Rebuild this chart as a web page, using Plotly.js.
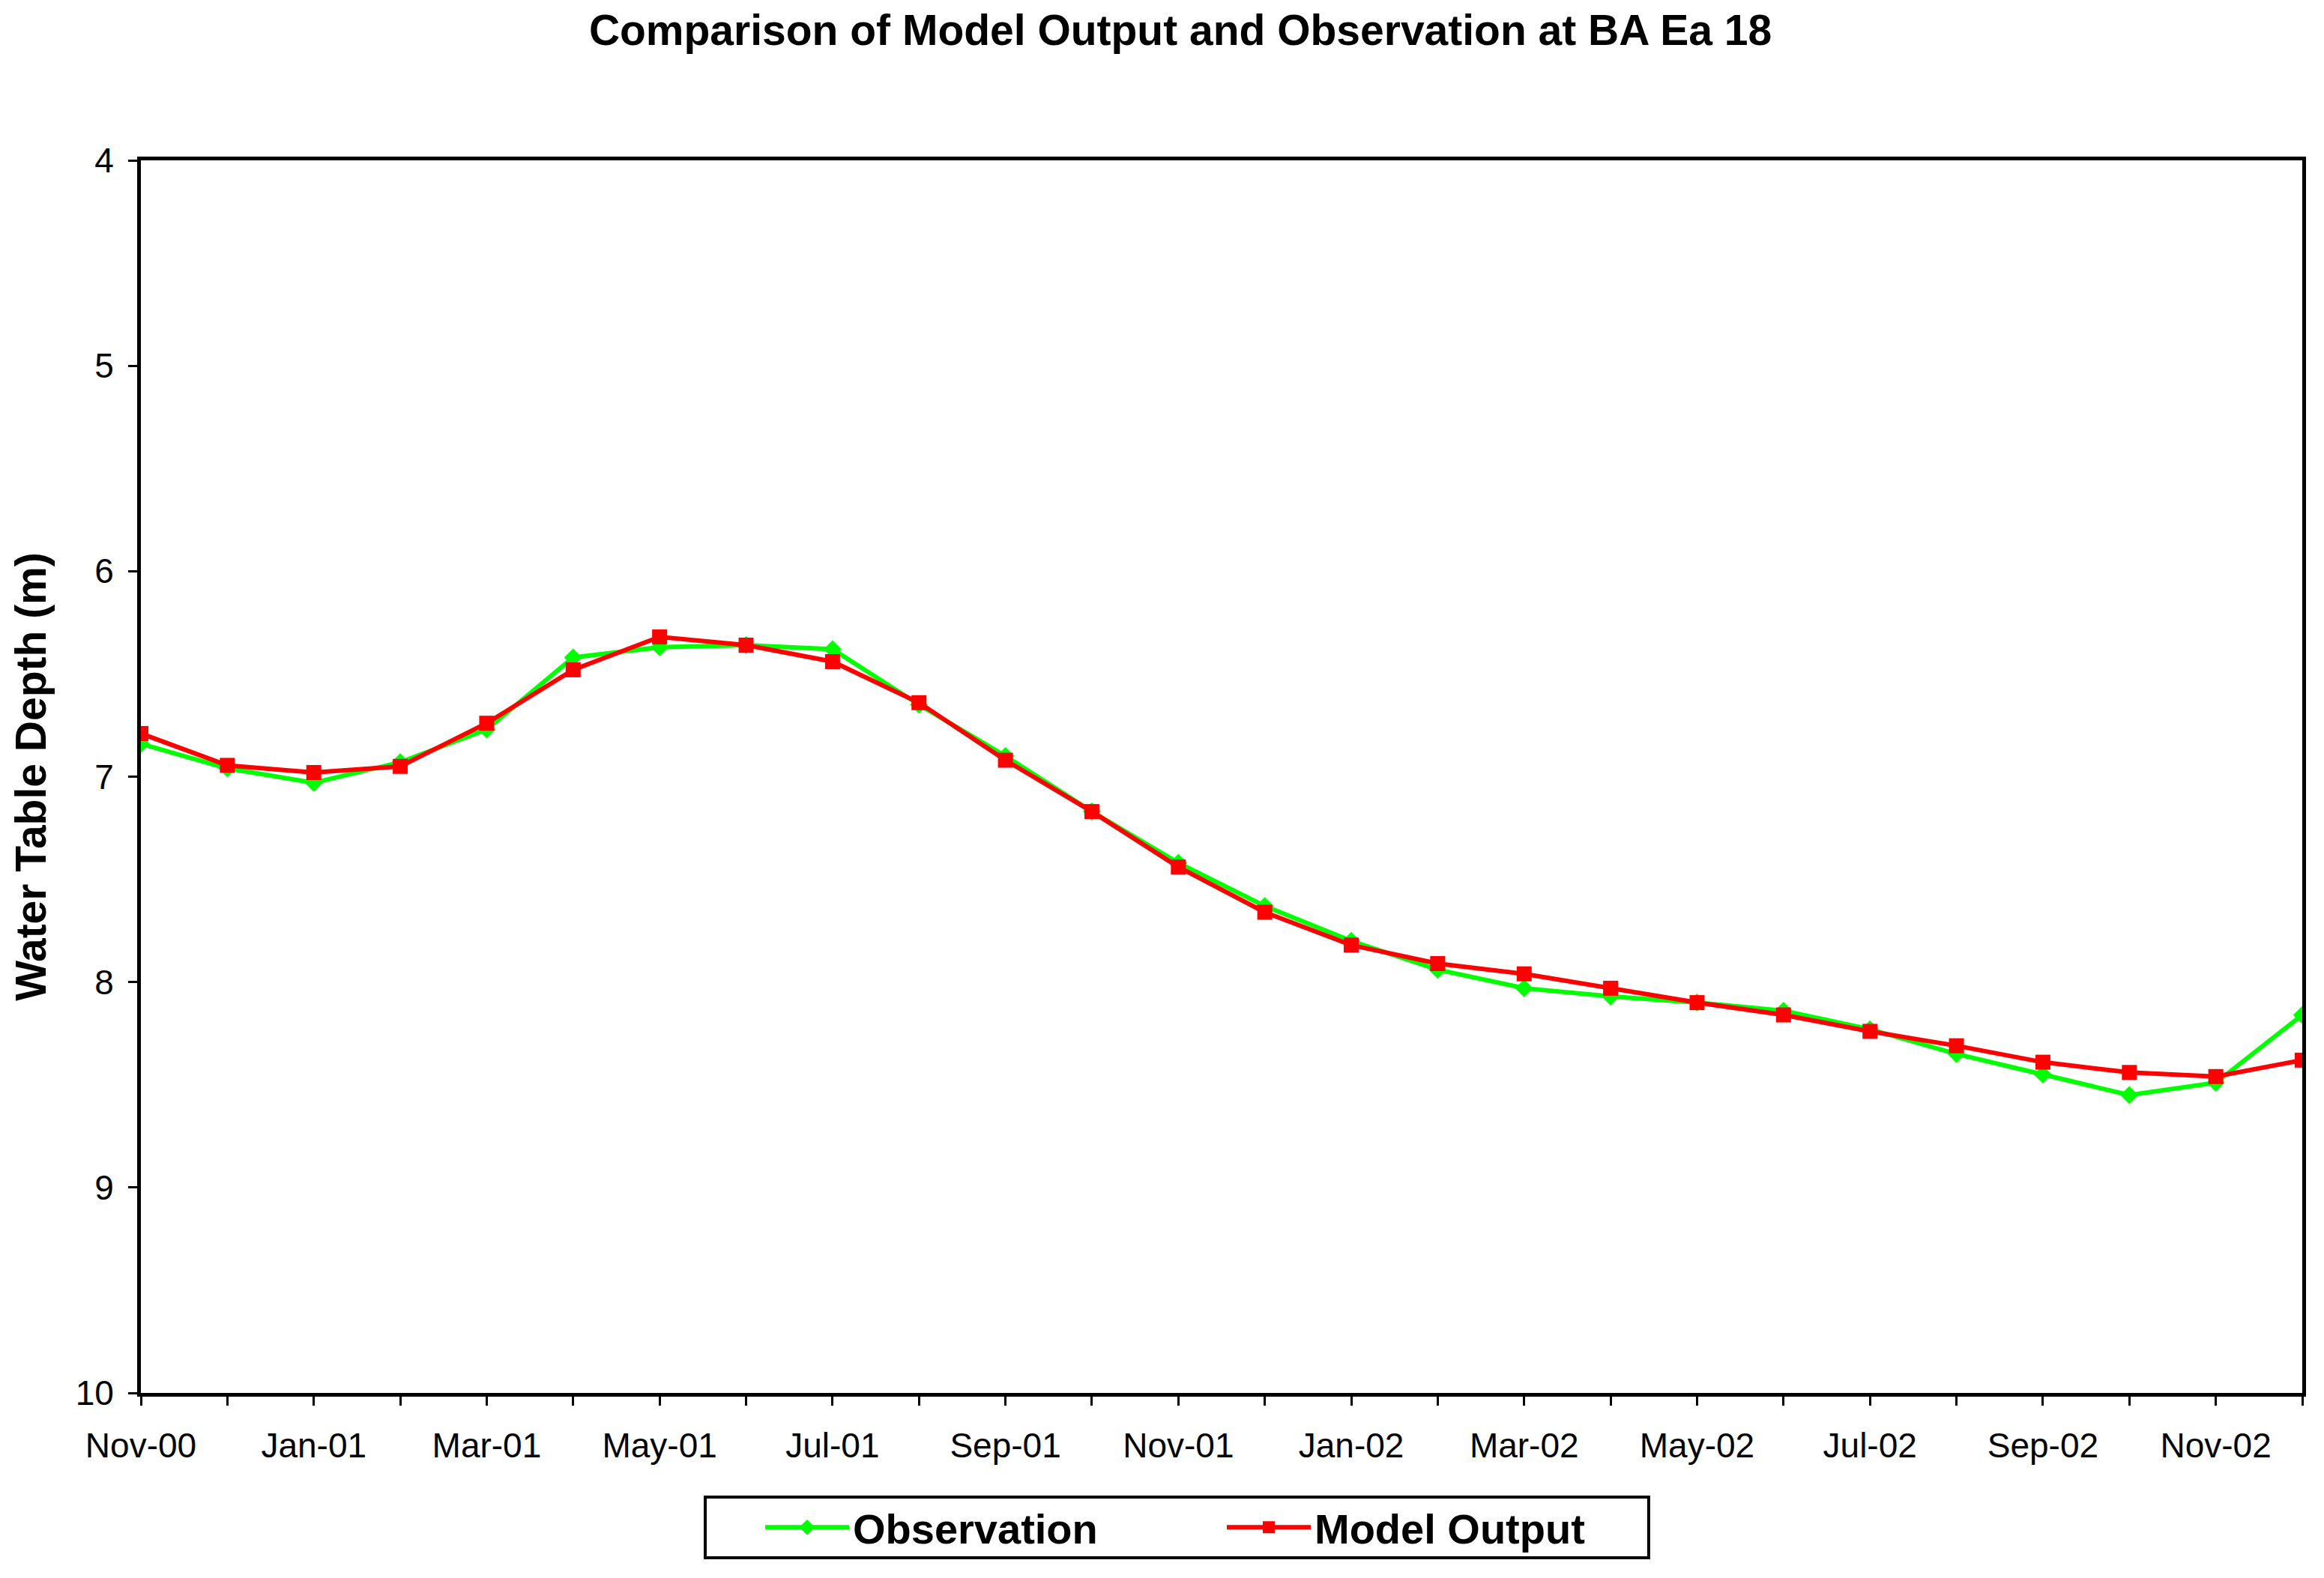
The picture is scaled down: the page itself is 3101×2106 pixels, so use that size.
<!DOCTYPE html>
<html>
<head>
<meta charset="utf-8">
<script src="https://cdn.plot.ly/plotly-3.0.1.min.js"></script>
<style>
  html, body { margin: 0; padding: 0; background: #ffffff; }
  #chart { width: 3101px; height: 2106px; }
</style>
</head>
<body>
<div id="chart"></div>
<script>
const months = ['Nov-00','Dec-00','Jan-01','Feb-01','Mar-01','Apr-01','May-01','Jun-01','Jul-01','Aug-01','Sep-01','Oct-01','Nov-01','Dec-01','Jan-02','Feb-02','Mar-02','Apr-02','May-02','Jun-02','Jul-02','Aug-02','Sep-02','Oct-02','Nov-02','Dec-02'];
const observation = [6.84,6.96,7.03,6.93,6.77,6.42,6.37,6.36,6.38,6.65,6.90,7.17,7.42,7.63,7.80,7.94,8.03,8.07,8.10,8.14,8.23,8.35,8.45,8.55,8.49,8.16];
const modelOutput = [6.79,6.945,6.98,6.95,6.74,6.48,6.32,6.36,6.44,6.64,6.92,7.17,7.44,7.66,7.82,7.91,7.96,8.03,8.10,8.16,8.24,8.31,8.39,8.44,8.46,8.38];
const tickLabels = months.map((m, i) => (i % 2 === 0 ? m : ''));
const yTicks = [4,5,6,7,8,9,10];

const FONT = 'Liberation Sans, Arial, Helvetica, sans-serif';

const traces = [
  {
    x: months, y: observation, name: '<b>Observation</b>', type: 'scatter', mode: 'lines+markers',
    line: { color: '#00FF00', width: 6 },
    marker: { symbol: 'diamond', size: 18.5, color: '#00FF00' }
  },
  {
    x: months, y: modelOutput, name: '<b>Model Output</b>', type: 'scatter', mode: 'lines+markers',
    line: { color: '#FF0000', width: 6 },
    marker: { symbol: 'square', size: 20, color: '#FF0000' }
  }
];

const layout = {
  width: 3101, height: 2106,
  paper_bgcolor: '#ffffff', plot_bgcolor: '#ffffff',
  margin: { l: 188, r: 29, t: 214, b: 247 },
  font: { family: FONT, color: '#000000' },
  title: {
    text: '<b>Comparison of Model Output and Observation at BA Ea 18</b>',
    font: { family: FONT, size: 57, color: '#000000' },
    x: 1575 / 3101, xanchor: 'center', xref: 'container',
    y: 1 - 40 / 2106, yanchor: 'middle', yref: 'container'
  },
  xaxis: {
    type: 'category',
    range: [0, months.length - 1],
    tickmode: 'array', tickvals: months, ticktext: tickLabels,
    ticks: 'outside', ticklen: 12, tickwidth: 3, tickcolor: '#000000',
    ticklabelstandoff: 14,
    tickfont: { family: FONT, size: 46, color: '#000000' },
    showline: true, linecolor: '#000000', linewidth: 5, mirror: true,
    showgrid: false, zeroline: false, automargin: false, tickangle: 0
  },
  yaxis: {
    range: [10, 4],
    tickmode: 'array', tickvals: yTicks, ticktext: yTicks.map(String),
    ticks: 'outside', ticklen: 12, tickwidth: 3, tickcolor: '#000000',
    ticklabelstandoff: 10,
    tickfont: { family: FONT, size: 46, color: '#000000' },
    showline: true, linecolor: '#000000', linewidth: 5, mirror: true,
    showgrid: false, zeroline: false, automargin: false,
    title: {
      text: '<b>Water Table Depth (m)</b>',
      font: { family: FONT, size: 57, color: '#000000' },
      standoff: 22
    }
  },
  showlegend: true,
  legend: {
    orientation: 'h',
    x: 0.2871, xanchor: 'left', xref: 'paper',
    y: -0.1091, yanchor: 'middle', yref: 'paper',
    bgcolor: 'rgba(0,0,0,0)', borderwidth: 0,
    font: { family: FONT, size: 56, color: '#000000' },
    entrywidth: 489, entrywidthmode: 'pixels',
    itemwidth: 112, traceorder: 'normal'
  },
  shapes: [
    {
      type: 'rect', xref: 'paper', yref: 'paper',
      x0: 0.2611, x1: 0.6976, y0: -0.0845, y1: -0.1337,
      line: { color: '#000000', width: 4 }, fillcolor: 'rgba(0,0,0,0)', layer: 'above'
    }
  ]
};

Plotly.newPlot('chart', traces, layout, { displayModeBar: false, staticPlot: true });
</script>
</body>
</html>
